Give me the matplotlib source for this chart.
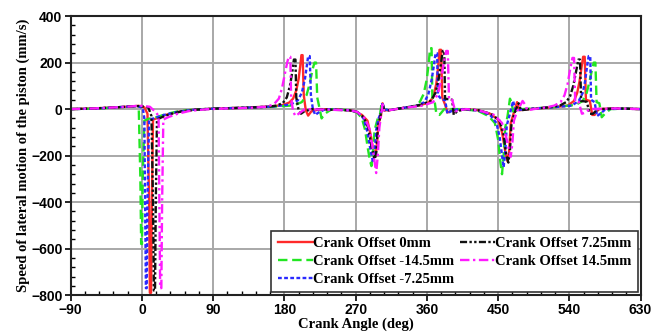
import matplotlib
matplotlib.use("Agg")
import matplotlib.pyplot as plt
import numpy as np
from matplotlib.ticker import MultipleLocator

# (crank angle in deg, lateral speed in mm/s)
offset_0 = [(-90, 0), (-60, 3), (-30, 8), (-12, 12), (-4, 14), (3, 8), (7, -20), (9, -400), (10, -790),
            (11.5, -790), (12.5, -400), (14, -45), (20, -38), (30, -25), (45, -12), (65, -3), (90, 2),
            (130, 6), (165, 12), (178, 18), (186, 28), (191, 45), (195, 80), (198, 130), (200, 185),
            (201.5, 232), (203, 232), (204.5, 60), (207, -5), (210, -28), (214, -10), (225, 0),
            (250, -2), (268, -8), (278, -25), (285, -50), (289, -110), (292, -170), (295, -205),
            (297, -150), (299, -60), (302, -30), (304, 25), (306, -5), (312, -5), (330, 5), (350, 15),
            (362, 28), (368, 50), (372, 110), (374.5, 190), (376, 255), (378, 255), (379.5, 50),
            (383, 20), (386, -15), (392, -5), (405, 0), (425, -5), (440, -20), (450, -45), (455, -100),
            (459, -180), (462, -225), (464, -180), (466, -60), (470, -15), (474, 30), (477, -5),
            (490, 0), (520, 8), (538, 15), (546, 35), (550, 70), (553, 120), (555.5, 180),
            (557.5, 225), (559.5, 225), (561, 40), (566, 35), (569, -25), (572, -25), (577, 0),
            (600, 3), (630, 0)]

offset_m145 = [(-90, 0), (-60, 2), (-30, 8), (-15, 12), (-7, 12), (-4, 0), (-2, -300), (-1, -580),
               (0, -580), (1, -300), (3, -50), (8, -42), (18, -35), (30, -22), (45, -10), (65, -2),
               (90, 2), (130, 6), (165, 10), (192, 16), (202, 30), (208, 60), (212, 110), (215.5, 170),
               (218, 200), (220, 200), (221.5, 50), (224, 10), (227, -40), (231, -20), (240, 0),
               (262, -5), (272, -15), (278, -40), (282, -90), (285, -160), (288, -220), (290, -245),
               (292, -180), (294, -90), (298, -40), (301, -20), (303, 30), (305, 0), (312, -5),
               (330, 5), (343, 12), (351, 30), (356, 65), (360, 130), (362.5, 200), (364, 262),
               (366, 262), (367, 40), (370, 30), (372, -20), (376, -25), (382, 0), (405, 0), (425, -8),
               (438, -30), (446, -60), (450, -130), (453, -230), (455, -280), (457, -200), (459, -80),
               (462, -30), (465, 45), (467, 30), (469, -10), (480, 0), (520, 8), (548, 18), (557, 35),
               (562, 70), (566, 125), (569, 175), (571, 200), (573, 200), (574.5, 30), (578, 25),
               (581, -35), (585, -20), (592, 0), (610, 2), (630, 0)]

offset_m725 = [(-90, 0), (-60, 2), (-30, 8), (-12, 12), (-5, 12), (1, 5), (3, -40), (4, -400), (5, -770),
               (6, -770), (7, -400), (9, -45), (15, -40), (28, -25), (45, -12), (65, -3), (90, 2),
               (130, 6), (165, 11), (188, 20), (197, 38), (202, 70), (206, 130), (208.5, 190),
               (210, 228), (212, 228), (213.5, 60), (216, 0), (219, -25), (223, -15), (232, 0),
               (262, -5), (272, -12), (280, -40), (285, -100), (289, -180), (292, -230), (294, -190),
               (296, -90), (299, -40), (302, -15), (304, 28), (306, 0), (312, -5), (330, 5), (348, 15),
               (357, 30), (362, 65), (366, 125), (369, 190), (371, 240), (373, 240), (374, 60),
               (379, 40), (383, 40), (386, -20), (390, -10), (400, 0), (425, -6), (440, -25),
               (448, -60), (452, -120), (455, -200), (457, -250), (459, -190), (461, -70), (465, -20),
               (469, 35), (472, -5), (485, 0), (520, 8), (543, 15), (552, 35), (557, 70), (560, 120),
               (562.5, 185), (564.5, 228), (566.5, 228), (567.5, 40), (572, 30), (575, -30),
               (579, -20), (586, 0), (610, 2), (630, 0)]

offset_725 = [(-90, 0), (-60, 3), (-30, 8), (-12, 12), (-3, 13), (8, 8), (12, -30), (14, -400), (15, -780),
              (16.5, -780), (17.5, -400), (19, -45), (25, -35), (35, -22), (50, -10), (70, -2), (90, 2),
              (130, 6), (160, 10), (170, 15), (178, 26), (183, 50), (187, 100), (190, 160), (192, 213),
              (194, 213), (195, 50), (198, -5), (201, -20), (205, -10), (215, 0), (262, -5), (272, -12),
              (280, -35), (286, -80), (290, -160), (294, -215), (296, -190), (298, -80), (301, -35),
              (304, 25), (306, -5), (312, -5), (330, 5), (352, 18), (365, 35), (371, 70), (375, 130),
              (378, 200), (380, 250), (382, 250), (383, 45), (388, 42), (392, 40), (394, -25),
              (398, -10), (408, 0), (425, -5), (442, -22), (452, -50), (457, -110), (460, -190),
              (463, -230), (465, -180), (467, -60), (471, -15), (476, 25), (479, -5), (490, 0),
              (515, 8), (528, 15), (536, 30), (541, 55), (545, 100), (548.5, 160), (551.5, 213),
              (553.5, 213), (555, 35), (562, 32), (566, -20), (570, -20), (576, 0), (600, 3), (630, 0)]

offset_145 = [(-90, 0), (-60, 3), (-30, 8), (-12, 12), (-3, 15), (10, 10), (18, -15), (21, -30), (22, -400),
              (23, -770), (24.5, -770), (25.5, -400), (27, -45), (33, -35), (45, -20), (60, -8), (80, -1),
              (100, 2), (140, 6), (158, 10), (167, 22), (173, 45), (177, 90), (180.5, 150), (183.5, 200),
              (185.5, 225), (187.5, 225), (188.5, 50), (191, -10), (194, -30), (198, -20), (206, 0),
              (262, -5), (272, -12), (282, -40), (288, -90), (292, -180), (296, -275), (298, -200),
              (300, -80), (302, -30), (304, 20), (306, -5), (312, -5), (330, 5), (355, 15), (368, 30),
              (374, 65), (378, 125), (381.5, 200), (384.5, 250), (386.5, 250), (388, 40), (392, 40),
              (396, -10), (400, -5), (410, 0), (425, -5), (445, -25), (455, -60), (461, -130),
              (464, -180), (466, -205), (468, -150), (470, -50), (474, -10), (481, 35), (484, 20),
              (487, -5), (495, 0), (512, 8), (521, 15), (529, 30), (534, 60), (538, 110), (541, 170),
              (544, 220), (546, 220), (547.5, 30), (552, 30), (556, -20), (560, -15), (566, 0),
              (600, 3), (630, 0)]

labels = ["Crank Offset 0mm", "Crank Offset -14.5mm", "Crank Offset -7.25mm",
          "Crank Offset 7.25mm", "Crank Offset 14.5mm"]
x_ticks = [-90, 0, 90, 180, 270, 360, 450, 540, 630]
y_ticks = [-800, -600, -400, -200, 0, 200, 400]

series = [offset_0, offset_m145, offset_m725, offset_725, offset_145]
colors = ["#ff2a2a", "#22e622", "#2a2aff", "#111111", "#ff1aff"]
dashes = [(None, None), (4, 2), (1.6, 1), (3, 1, 1, 1, 1, 1), (4, 1.5, 1, 1.5)]

serif = ["Liberation Serif", "DejaVu Serif"]

fig = plt.figure(figsize=(6.61, 3.35), dpi=100)
ax = fig.add_axes([0.107, 0.119, 0.862, 0.833])

for pts, c, d, lab in zip(series, colors, dashes, labels):
    arr = np.array(pts, dtype=float)
    line, = ax.plot(arr[:, 0], arr[:, 1], color=c, lw=1.7, label=lab)
    if d[0] is not None:
        line.set_dashes(d)

ax.set_xlim(-90, 630)
ax.set_ylim(-800, 400)
ax.set_xticks(x_ticks)
ax.set_yticks(y_ticks)
ax.xaxis.set_minor_locator(MultipleLocator(18))
ax.yaxis.set_minor_locator(MultipleLocator(40))
ax.grid(True, which="major", color="#a8a8a8", lw=1.4)
ax.set_axisbelow(True)
ax.tick_params(which="major", direction="out", length=4, width=1.2, labelsize=10, pad=2)
ax.tick_params(which="minor", direction="in", length=3, width=1)
for lab in ax.get_xticklabels() + ax.get_yticklabels():
    lab.set_fontfamily(["Liberation Sans", "DejaVu Sans"])
    lab.set_fontweight("bold")
for sp in ax.spines.values():
    sp.set_linewidth(1.5)
    sp.set_color("#222222")

ax.set_xlabel("Crank Angle (deg)", family=serif, fontweight="bold", fontsize=10.5, labelpad=0)
ax.set_ylabel("Speed of lateral motion of the piston (mm/s)", family=serif,
              fontweight="bold", fontsize=10.5, labelpad=1)

leg = ax.legend(loc="lower right", ncol=2, prop={"family": serif, "weight": "bold", "size": 10.5},
                handlelength=2.4, handletextpad=0.0, columnspacing=0.4, labelspacing=0.3,
                borderpad=0.45, fancybox=False, framealpha=1, edgecolor="#333333",
                borderaxespad=0.2)
leg.get_frame().set_linewidth(1.2)

fig.savefig("out.png", dpi=100)
